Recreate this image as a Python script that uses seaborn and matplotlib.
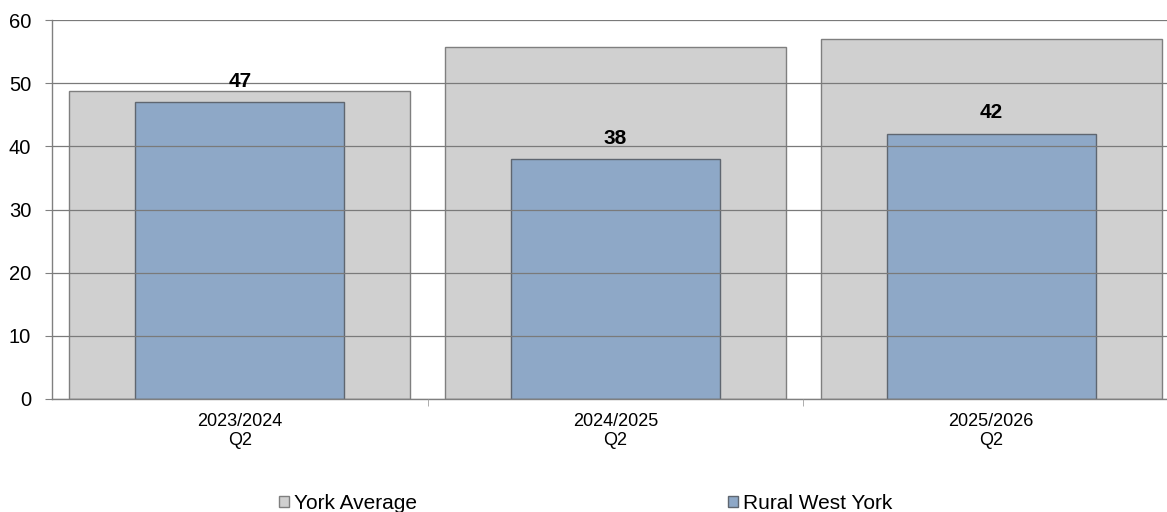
import matplotlib
matplotlib.use("Agg")
import matplotlib.pyplot as plt
import seaborn as sns
import pandas as pd
from matplotlib.patches import Patch

periodos = ["2023/2024\nQ2", "2024/2025\nQ2", "2025/2026\nQ2"]
york_average = [48.8, 55.7, 57.0]
rural_west_york = [47, 38, 42]

df = pd.DataFrame({"periodo": periodos, "york": york_average, "rural": rural_west_york})

sns.set_style("white")
plt.rcParams["font.family"] = ["Liberation Sans", "DejaVu Sans"]
plt.rcParams["text.color"] = "black"
plt.rcParams["xtick.labelcolor"] = "black"
plt.rcParams["ytick.labelcolor"] = "black"

fig = plt.figure(figsize=(11.67, 5.12), dpi=100)
ax = fig.add_axes([52 / 1167, 113 / 512, 1115 / 1167, 379 / 512])

gris = "#D0D0D0"
azul = "#8EA8C7"

sns.barplot(data=df, x="periodo", y="york", color=gris, width=0.908,
            edgecolor="#7F7F7F", linewidth=1, saturation=1, ax=ax)
sns.barplot(data=df, x="periodo", y="rural", color=azul, width=0.556,
            edgecolor="#5F6670", linewidth=1, saturation=1, ax=ax)

for i, v in enumerate(rural_west_york):
    ax.annotate(str(v), (i, v), xytext=(0, 15), textcoords="offset points",
                ha="center", va="center", fontsize=15, fontweight="bold", color="black")

ax.set_ylim(0, 60)
ax.set_yticks(range(0, 61, 10))
ax.set_xlim(-0.5, 2.468)
ax.set_xlabel("")
ax.set_ylabel("")

for b in ax.patches:
    b.set_zorder(1)
ax.yaxis.grid(True, color="#7A7A7A", linewidth=0.9, zorder=3)
ax.set_axisbelow(False)

for s in ["top", "right"]:
    ax.spines[s].set_visible(False)
for s in ["left", "bottom"]:
    ax.spines[s].set_color("#808080")
    ax.spines[s].set_linewidth(1)

ax.tick_params(axis="y", labelsize=14.5, length=5, color="#808080", left=True, pad=10)
ax.tick_params(axis="x", labelsize=13, length=0, pad=10)
ax.set_xticks([0.5, 1.5], minor=True)
ax.tick_params(axis="x", which="minor", length=5, color="#A0A0A0", bottom=True)

handles = [Patch(facecolor=gris, edgecolor="#7F7F7F", label="York Average"),
           Patch(facecolor=azul, edgecolor="#5F6670", label="Rural West York")]
fig.legend(handles=handles, loc="center", bbox_to_anchor=(0.5017, 0.017), ncol=2,
           frameon=False, fontsize=15, handlelength=0.48, handleheight=0.48,
           handletextpad=0.24, columnspacing=14.9, borderpad=0)

fig.savefig("out.png", dpi=100)
